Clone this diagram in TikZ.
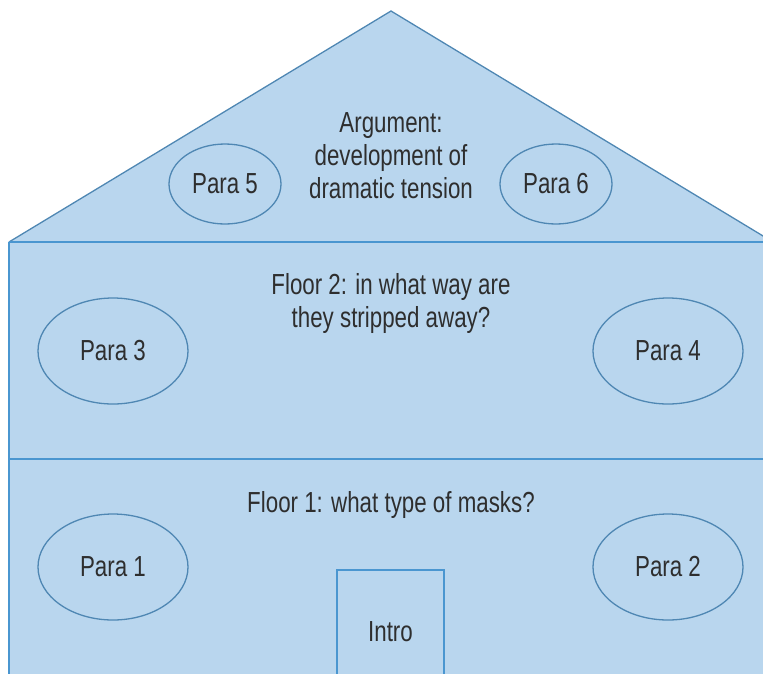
\documentclass[tikz,border=0pt]{standalone}
\usepackage{fontspec}
\setmainfont{Liberation Sans}[FakeStretch=0.77]
\usetikzlibrary{shapes.geometric}
\definecolor{housefill}{HTML}{B9D6EE}
\definecolor{floorline}{HTML}{4A96D0}
\definecolor{edgeline}{HTML}{4F87B3}
\definecolor{txt}{HTML}{2E2E2E}
\tikzset{
  lbl/.style={font=\fontsize{29}{33}\selectfont, text=txt, inner sep=0pt, align=center, anchor=base},
  para/.style={ellipse, draw=edgeline, line width=1.3pt, fill=housefill, inner sep=0pt,
     font=\fontsize{29}{33}\selectfont, text=txt},
  bigpara/.style={para, minimum width=150pt, minimum height=106pt},
  smallpara/.style={para, minimum width=112pt, minimum height=80pt},
  introbox/.style={rectangle, draw=floorline, line width=1.3pt, fill=housefill,
     minimum width=107pt, minimum height=124pt, inner sep=0pt,
     font=\fontsize{29}{33}\selectfont, text=txt},
  floor/.style={draw=floorline, line width=2pt}
}
\begin{document}
\begin{tikzpicture}[x=1pt,y=-1pt]
\useasboundingbox (0,0) rectangle (763,673);
\clip (0,0) rectangle (763,673);
% house body
\coordinate (apex) at (391,11);
\coordinate (roofL) at (9,242);
\coordinate (roofR) at (773,242);
\coordinate (botL) at (9,690);
\coordinate (botR) at (773,690);
\coordinate (f1L) at (9,459);
\coordinate (f1R) at (773,459);
\fill[housefill] (roofL) -- (apex) -- (roofR) -- (botR) -- (botL) -- cycle;
\draw[edgeline, line width=1.3pt, line join=miter] (roofL) -- (apex) -- (roofR);
\draw[floorline, line width=1.5pt] (roofL) -- (botL);
\draw[floor] (roofL) -- (roofR);
\draw[floor] (f1L) -- (f1R);
% roof
\node[lbl] (arg) at (391,198) {Argument:\\development of\\dramatic tension};
\node[smallpara] (p5) at (225,184) {Para 5};
\node[smallpara] (p6) at (556,184) {Para 6};
% floor 2
\node[lbl] (fl2) at (391,327) {Floor 2: in what way are\\they stripped away?};
\node[bigpara] (p3) at (113,351) {Para 3};
\node[bigpara] (p4) at (668,351) {Para 4};
% floor 1
\node[lbl] (fl1) at (391,512) {Floor 1: what type of masks?};
\node[bigpara] (p1) at (113,567) {Para 1};
\node[bigpara] (p2) at (668,567) {Para 2};
\node[introbox] (intro) at (390.5,632) {Intro};
\end{tikzpicture}
\end{document}
